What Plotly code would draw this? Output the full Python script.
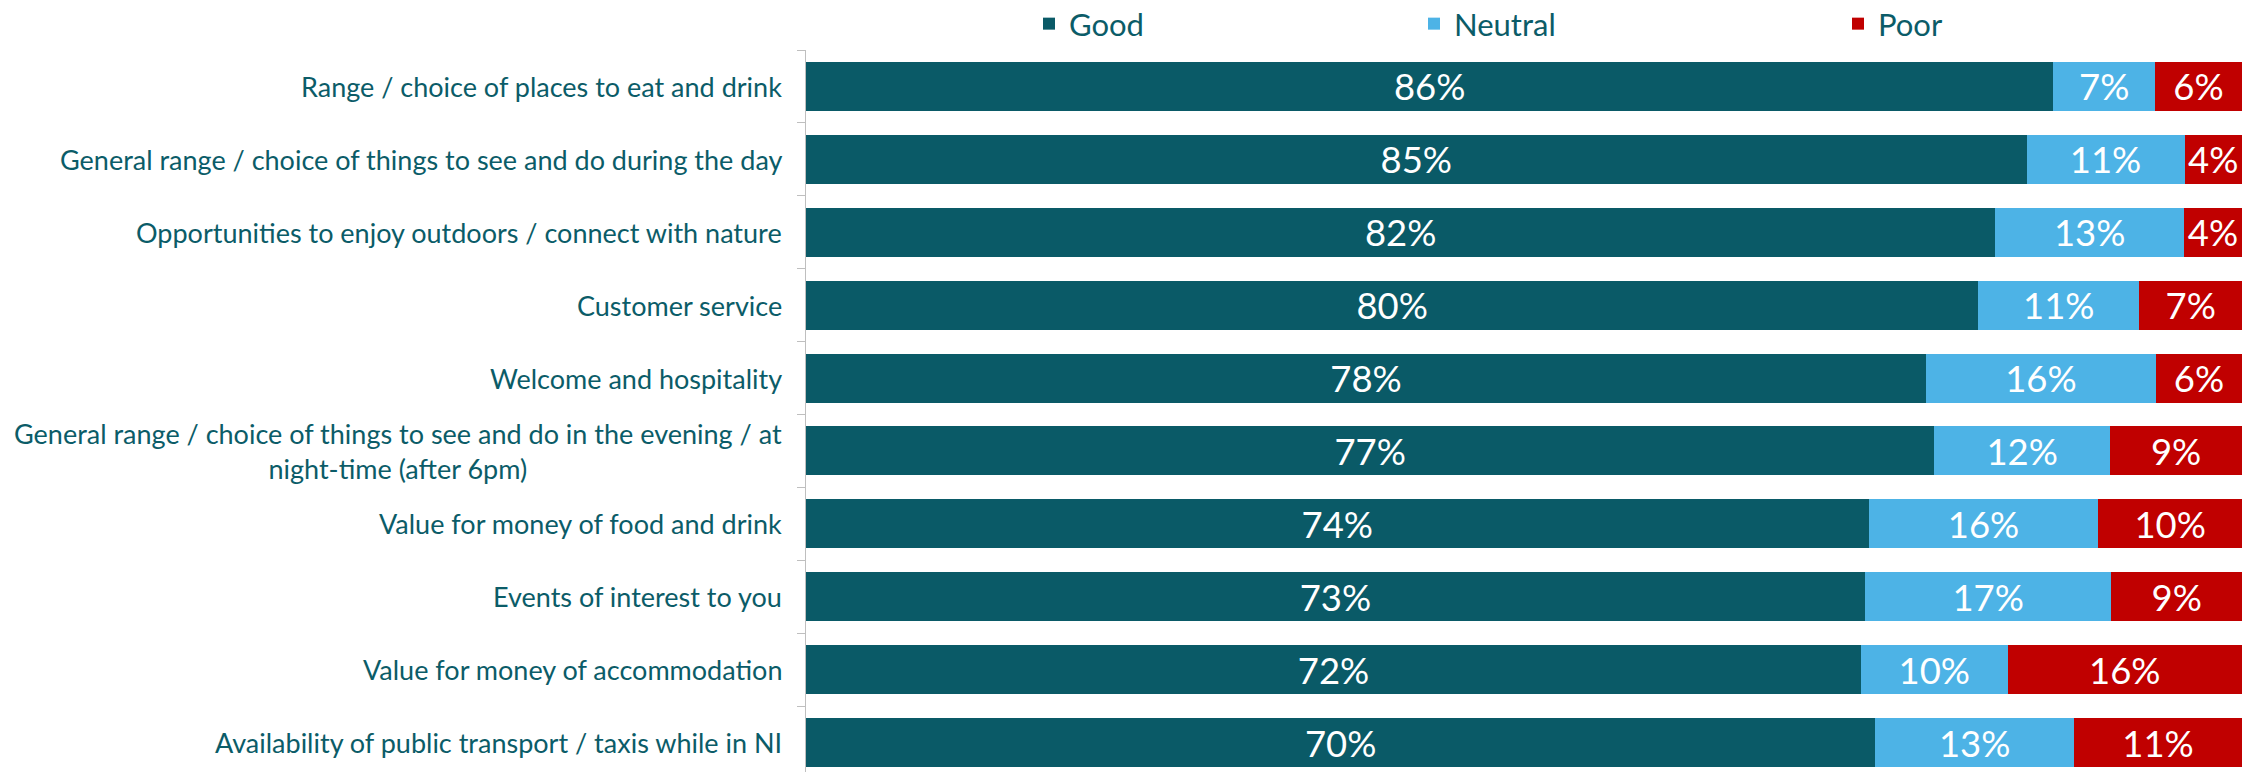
import plotly.graph_objects as go

categories = [
    "Range / choice of places to eat and drink",
    "General range / choice of things to see and do during the day",
    "Opportunities to enjoy outdoors / connect with nature",
    "Customer service",
    "Welcome and hospitality",
    "General range / choice of things to see and do in the evening / at<br>night-time (after 6pm)",
    "Value for money of food and drink",
    "Events of interest to you",
    "Value for money of accommodation",
    "Availability of public transport / taxis while in NI",
]
good = [86, 85, 82, 80, 78, 77, 74, 73, 72, 70]
neutral = [7, 11, 13, 11, 16, 12, 16, 17, 10, 13]
poor = [6, 4, 4, 7, 6, 9, 10, 9, 16, 11]

series_names = ["Good", "Neutral", "Poor"]
series_colors = ["#0A5A67", "#4DB3E6", "#C00000"]

FONT = "Lato, Roboto, sans-serif"
TEAL = "#0B5C68"

W, H = 2256, 772
ML, MR, MT, MB = 806, 14, 50, 0
plot_w = W - ML - MR
plot_h = H - MT - MB

fig = go.Figure()
legend_px = [1029, 1414, 1838]  # left edge of each legend box (figure px)
legend_ids = ["legend", "legend2", "legend3"]
for name, vals, col, lid in zip(series_names, [good, neutral, poor], series_colors, legend_ids):
    fig.add_trace(go.Bar(
        y=categories, x=vals, name=name, orientation="h",
        marker=dict(color=col, line=dict(width=0)),
        text=[f"{v}%" for v in vals],
        textposition="inside", insidetextanchor="middle", textangle=0,
        textfont=dict(family=FONT, size=39, color="white"),
        legend=lid, hoverinfo="skip",
    ))

# category labels as annotations (center-aligned multi-line like the original)
for c in categories:
    fig.add_annotation(
        x=0, xref="paper", y=c, yref="y", text=c, showarrow=False,
        xanchor="right", yanchor="middle", align="center", xshift=-22,
        font=dict(family=FONT, size=27, color=TEAL),
    )

leg_y = 1 + 26 / plot_h
layout_legends = {}
for lid, px in zip(legend_ids, legend_px):
    layout_legends[lid] = dict(
        x=(px - ML) / plot_w, xanchor="left", y=leg_y, yanchor="middle",
        orientation="h", font=dict(family=FONT, size=31, color=TEAL),
        bgcolor="rgba(0,0,0,0)", itemwidth=30,
    )

fig.update_layout(
    width=W, height=H,
    margin=dict(l=ML, r=MR, t=MT, b=MB, autoexpand=False),
    barmode="stack", barnorm="percent", bargap=0.328,
    plot_bgcolor="white", paper_bgcolor="white",
    showlegend=True,
    font=dict(family=FONT, color=TEAL),
    xaxis=dict(range=[0, 100], visible=False, fixedrange=True),
    yaxis=dict(
        categoryorder="array", categoryarray=categories,
        range=[9.404, -0.5], showticklabels=False,
        showline=True, linecolor="#BFBFBF", linewidth=1.5,
        ticks="outside", tickson="boundaries", ticklen=8, tickcolor="#BFBFBF",
        showgrid=False, zeroline=False,
    ),
    **layout_legends,
)

fig.write_html(
    "out.html",
    config={"displayModeBar": False, "staticPlot": True},
    post_script="document.body.style.margin='0';document.body.style.overflow='hidden';",
)
